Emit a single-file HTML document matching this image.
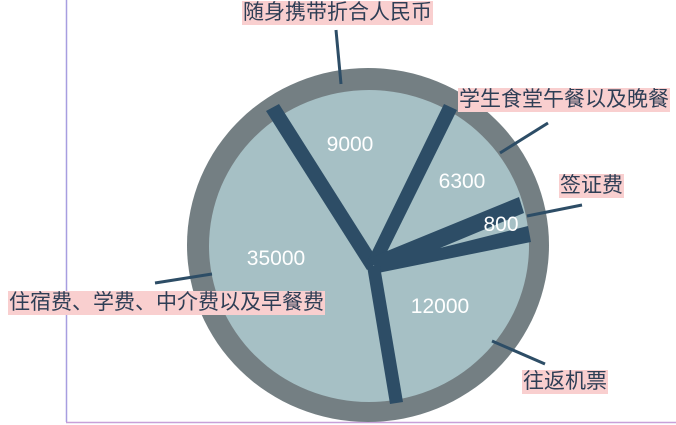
<!DOCTYPE html>
<html><head><meta charset="utf-8"><style>
body{margin:0;width:676px;height:425px;overflow:hidden;background:#fff;font-family:"Liberation Sans","Noto Sans CJK SC",sans-serif}
.l{position:absolute;background:#f9cfcf;color:#2e3e55;font-size:21px;line-height:24px;padding:0 1px;white-space:nowrap}
</style></head><body>
<svg width="676" height="425" style="position:absolute;left:0;top:0">
<line x1="66.5" y1="0" x2="66.5" y2="422" stroke="#a79ee0" stroke-width="1.5"/>
<line x1="66" y1="422.5" x2="676" y2="422.5" stroke="#c8a0d8" stroke-width="1.5"/>
<ellipse cx="368" cy="245" rx="181" ry="177" fill="#747f83"/>
<ellipse cx="369" cy="246" rx="160" ry="156" fill="#a6c0c5"/>
<g fill="#2d4d66">
<polygon points="266,111 279,104 379,262 367,270"/>
<polygon points="444,104 457,110 379,268 367,262"/>
<polygon points="370,258 519,197 524,213 440,248 528,226 531,242 378,273"/>
<polygon points="367,266 380,266 403,402 390,404"/>
</g>
<g stroke="#2d4d66" stroke-width="3">
<line x1="336" y1="30" x2="341" y2="84"/>
<line x1="548" y1="123" x2="500" y2="153"/>
<line x1="582" y1="205" x2="527" y2="216"/>
<line x1="155" y1="283" x2="212" y2="274"/>
<line x1="545" y1="364" x2="492" y2="341"/>
</g>
<g fill="#fff" font-family="Liberation Sans,sans-serif" font-size="21" text-anchor="middle">
<text x="350" y="151">9000</text>
<text x="462" y="188">6300</text>
<text x="501" y="231">800</text>
<text x="276" y="265">35000</text>
<text x="440" y="313">12000</text>
</g>
</svg>
<div class="l" style="left:242px;top:1px">随身携带折合人民币</div>
<div class="l" style="left:458px;top:88px">学生食堂午餐以及晚餐</div>
<div class="l" style="left:559px;top:174px">签证费</div>
<div class="l" style="left:8px;top:291px">住宿费、学费、中介费以及早餐费</div>
<div class="l" style="left:522px;top:370px">往返机票</div>
</body></html>
